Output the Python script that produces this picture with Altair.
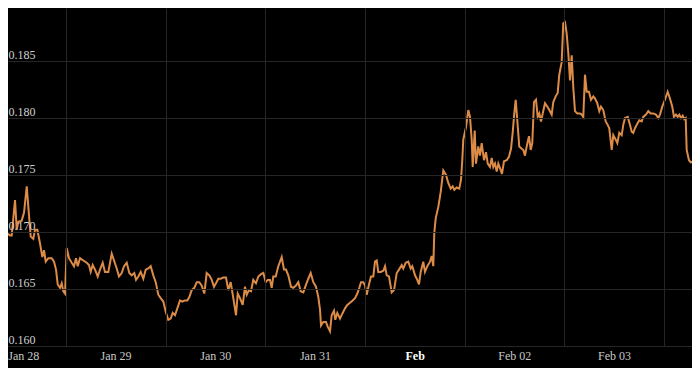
import altair as alt
import pandas as pd

# hours since Jan 28 00:00
hours = [-3.44, -2.65, -1.44, -1.04, -0.24, 0.17, 0.55, 1.37, 1.93, 2.58, 2.96, 3.54, 4.16, 4.57, 5.13, 5.78,
         6.33, 6.74, 7.15, 7.78, 8.59, 9.15, 9.63, 10.04, 10.59, 11.00, 11.39, 11.80, 12.20, 12.76, 13.41, 13.96,
         14.44, 14.85, 15.41, 16.20, 17.02, 17.57, 17.98, 18.46, 19.02, 19.67, 20.22, 20.87, 21.42, 22.22, 23.04,
         23.59, 24.24, 24.79, 25.44, 26.00, 26.65, 27.27, 27.85, 28.48, 28.89, 29.44, 30.02, 30.64, 31.22, 31.85,
         32.42, 33.05, 33.63, 34.25, 34.83, 35.46, 36.04, 36.66, 37.24, 37.72, 38.27, 38.83, 39.48, 40.03, 40.68,
         41.24, 41.72, 42.29, 42.92, 43.50, 44.12, 44.70, 45.33, 45.90, 46.53, 47.11, 47.66, 48.14, 48.70, 49.27,
         49.90, 50.55, 51.10, 51.68, 52.31, 52.96, 53.37, 53.92, 54.57, 55.13, 55.54, 56.08, 56.57, 57.12, 57.77,
         58.33, 58.98, 59.53, 60.11, 60.59, 61.14, 61.55, 61.93, 62.51, 63.14, 63.96, 64.51, 64.99, 65.54, 66.20,
         66.75, 67.40, 67.95, 68.53, 69.16, 69.73, 70.36, 70.94, 71.57, 72.21, 72.77, 73.18, 73.42, 73.97, 74.62,
         75.03, 75.59, 75.99, 76.55, 76.86, 77.34, 77.99, 78.64, 79.20, 79.75, 80.40, 81.05, 81.60, 82.16, 82.64,
         83.05, 83.60, 84.01, 84.42, 85.04, 85.46, 86.01, 86.42, 86.83, 87.21, 87.79, 88.42, 88.83, 89.24, 89.79,
         90.44, 91.00, 91.65, 92.20, 92.85, 93.23, 93.81, 94.43, 95.01, 95.40, 96.05, 96.60, 97.01, 97.42, 98.04,
         98.45, 99.01, 99.66, 100.07, 100.45, 100.69, 101.03, 101.66, 102.23, 102.86, 103.51, 104.06, 104.64,
         105.12, 105.51, 106.09, 106.71, 107.12, 107.43, 107.67, 108.32, 108.88, 109.29, 109.70, 109.94, 110.42,
         110.73, 111.28, 111.69, 112.10, 112.66, 113.14, 113.55, 114.10, 114.51, 114.90, 115.31, 115.72, 116.10,
         116.51, 116.99, 117.47, 118.12, 118.67, 119.16, 119.56, 119.95, 120.29, 120.67, 121.15, 121.73, 122.12,
         122.53, 122.93, 123.49, 123.90, 124.28, 124.69, 125.17, 125.58, 125.97, 126.38, 126.79, 127.34, 127.89,
         128.38, 128.95, 129.34, 129.91, 130.40, 130.78, 131.36, 131.74, 132.16, 132.56, 132.95, 133.36, 133.77,
         134.15, 134.56, 135.12, 135.77, 136.18, 136.56, 136.97, 137.38, 137.93, 138.41, 138.97, 139.38, 139.93,
         140.41, 140.82, 141.37, 141.95, 142.43, 142.82, 143.40, 143.78, 144.36, 144.75, 145.23, 145.80, 146.19,
         146.60, 147.25, 147.80, 148.21, 148.59, 149.00, 149.56, 150.04, 150.62, 151.00, 151.65, 152.21, 152.78,
         153.41, 154.06, 154.61, 155.02, 155.57, 156.22, 156.87, 157.43, 157.98, 158.39, 158.88, 159.28, 159.67,
         160.08, 160.49, 160.87, 161.21, 161.45, 162.00, 162.48, 163.04, 163.45, 164.01, 164.49]

prices = [0.1744, 0.1700, 0.1697, 0.1697, 0.1728, 0.1702, 0.1709, 0.1710, 0.1717, 0.1740, 0.1722, 0.1696, 0.1694,
          0.1702, 0.1702, 0.1690, 0.1678, 0.1684, 0.1674, 0.1677, 0.1677, 0.1674, 0.1667, 0.1654, 0.1651, 0.1655,
          0.1648, 0.1646, 0.1686, 0.1677, 0.1673, 0.1670, 0.1677, 0.1670, 0.1677, 0.1675, 0.1673, 0.1671, 0.1665,
          0.1671, 0.1667, 0.1661, 0.1667, 0.1673, 0.1665, 0.1665, 0.1681, 0.1675, 0.1668, 0.1661, 0.1664, 0.1670,
          0.1673, 0.1664, 0.1662, 0.1664, 0.1658, 0.1661, 0.1665, 0.1659, 0.1667, 0.1668, 0.1670, 0.1662, 0.1656,
          0.1645, 0.1642, 0.1639, 0.1630, 0.1623, 0.1624, 0.1629, 0.1627, 0.1633, 0.1640, 0.1639, 0.1640, 0.1640,
          0.1643, 0.1649, 0.1651, 0.1656, 0.1656, 0.1653, 0.1646, 0.1664, 0.1662, 0.1658, 0.1652, 0.1655, 0.1659,
          0.1659, 0.1660, 0.1660, 0.1649, 0.1656, 0.1642, 0.1627, 0.1646, 0.1642, 0.1636, 0.1652, 0.1645, 0.1649,
          0.1648, 0.1658, 0.1655, 0.1661, 0.1663, 0.1664, 0.1656, 0.1658, 0.1658, 0.1651, 0.1661, 0.1661, 0.1670,
          0.1678, 0.1667, 0.1667, 0.1662, 0.1652, 0.1651, 0.1653, 0.1656, 0.1648, 0.1647, 0.1653, 0.1659, 0.1664,
          0.1656, 0.1652, 0.1643, 0.1632, 0.1618, 0.1621, 0.1621, 0.1617, 0.1613, 0.1627, 0.1631, 0.1623, 0.1629,
          0.1624, 0.1629, 0.1633, 0.1636, 0.1638, 0.1640, 0.1642, 0.1646, 0.1651, 0.1656, 0.1656, 0.1653, 0.1645,
          0.1655, 0.1661, 0.1661, 0.1674, 0.1675, 0.1665, 0.1665, 0.1666, 0.1670, 0.1662, 0.1661, 0.1647, 0.1649,
          0.1664, 0.1667, 0.1671, 0.1668, 0.1673, 0.1674, 0.1668, 0.1670, 0.1662, 0.1658, 0.1654, 0.1665, 0.1674,
          0.1665, 0.1670, 0.1674, 0.1679, 0.1670, 0.1699, 0.1712, 0.1722, 0.1735, 0.1754, 0.1750, 0.1743, 0.1738,
          0.1740, 0.1737, 0.1739, 0.1738, 0.1746, 0.1763, 0.1781, 0.1792, 0.1807, 0.1801, 0.1781, 0.1757, 0.1789,
          0.1760, 0.1775, 0.1767, 0.1778, 0.1763, 0.1770, 0.1760, 0.1757, 0.1765, 0.1757, 0.1760, 0.1753, 0.1760,
          0.1756, 0.1751, 0.1762, 0.1763, 0.1766, 0.1773, 0.1787, 0.1804, 0.1816, 0.1798, 0.1775, 0.1773, 0.1772,
          0.1767, 0.1775, 0.1784, 0.1772, 0.1778, 0.1814, 0.1816, 0.1801, 0.1804, 0.1797, 0.1804, 0.1813, 0.1810,
          0.1807, 0.1803, 0.1814, 0.1819, 0.1822, 0.1838, 0.1849, 0.1883, 0.1884, 0.1874, 0.1857, 0.1833, 0.1855,
          0.1827, 0.1806, 0.1804, 0.1804, 0.1803, 0.1801, 0.1838, 0.1823, 0.1823, 0.1816, 0.1819, 0.1817, 0.1813,
          0.1806, 0.1810, 0.1807, 0.1797, 0.1794, 0.1791, 0.1772, 0.1785, 0.1781, 0.1778, 0.1787, 0.1785, 0.1794,
          0.1800, 0.1801, 0.1794, 0.1788, 0.1787, 0.1791, 0.1795, 0.1798, 0.1797, 0.1801, 0.1803, 0.1806, 0.1804,
          0.1804, 0.1803, 0.1800, 0.1803, 0.1810, 0.1816, 0.1823, 0.1817, 0.1810, 0.1801, 0.1803, 0.1801, 0.1803,
          0.1800, 0.1802, 0.1799, 0.1800, 0.1772, 0.1763, 0.1761, 0.1762, 0.1766, 0.1775, 0.1781]

day_labels = ["Jan 28", "Jan 29", "Jan 30", "Jan 31", "Feb", "Feb 02", "Feb 03"]
grid_hours = [12, 36, 60, 84, 108, 132, 156]
y_ticks = [0.160, 0.165, 0.170, 0.175, 0.180, 0.185]

df = pd.DataFrame({"h": hours, "v": prices})

label_js = "[" + ",".join("'" + s + "'" for s in day_labels) + "][floor(datum.value / 24)]"
FONT = "Liberation Serif"

chart = alt.Chart(df).mark_line(color="#dd8c48", strokeWidth=2, clip=True).encode(
    x=alt.X("h:Q",
            scale=alt.Scale(domain=[-1.93, 162.73], nice=False, zero=False),
            axis=alt.Axis(values=grid_hours, labelExpr=label_js, title=None,
                          grid=True, gridColor="#262626", gridWidth=1,
                          ticks=False, tickSize=0, domain=False,
                          labelAlign={"condition": {"test": "datum.value == 12", "value": "left"},
                                      "value": "center"},
                          labelOffset={"condition": {"test": "datum.value == 12", "value": -58},
                                       "value": -50},
                          labelPadding=4, labelFlush=False, labelOverlap=False,
                          labelFont=FONT, labelFontSize=12,
                          labelColor={"condition": {"test": "datum.value == 108", "value": "#ffffff"},
                                      "value": "#c8c8c8"},
                          labelFontWeight={"condition": {"test": "datum.value == 108", "value": "bold"},
                                           "value": "normal"},
                          zindex=1)),
    y=alt.Y("v:Q",
            scale=alt.Scale(domain=[0.160, 0.18965], nice=False, zero=False),
            axis=alt.Axis(values=y_ticks, format=".3f", title=None,
                          grid=True, gridColor="#262626", gridWidth=1,
                          ticks=False, tickSize=0, domain=False,
                          labelAlign="left", labelBaseline="alphabetic", labelPadding=0,
                          labelOffset=-3, labelFlush=False, labelOverlap=False,
                          labelFont=FONT, labelFontSize=12, labelColor="#d0d0d0",
                          zindex=1)),
).properties(
    width=684, height=338,
    autosize=alt.AutoSizeParams(type="none"),
    padding={"left": 0, "top": 0, "right": 0, "bottom": 22},
    background="#000000",
).configure_view(stroke=None)

chart.save("out.html", embed_options={"renderer": "svg", "actions": False})
